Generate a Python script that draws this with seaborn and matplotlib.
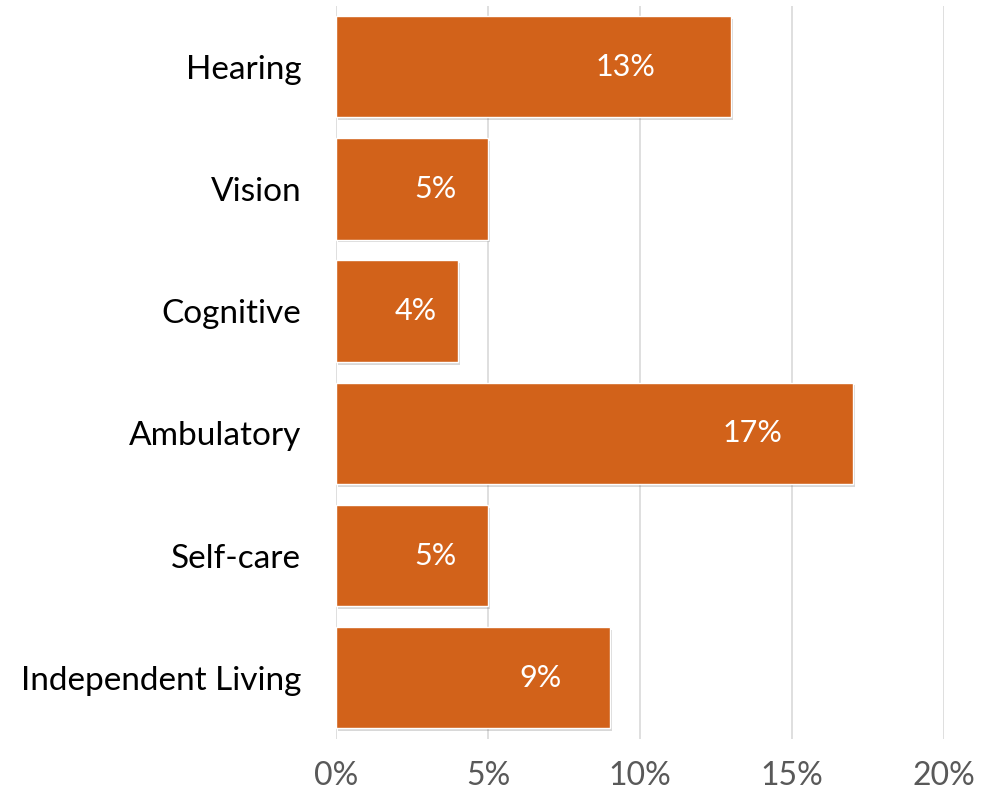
import matplotlib
matplotlib.use("Agg")
import matplotlib.pyplot as plt
import matplotlib.patheffects as pe
import seaborn as sns
import pandas as pd

# Chart data
categories = ["Hearing", "Vision", "Cognitive", "Ambulatory", "Self-care", "Independent Living"]
values = [0.13, 0.05, 0.04, 0.17, 0.05, 0.09]
labels = ["13%", "5%", "4%", "17%", "5%", "9%"]
xticks = [0, 0.05, 0.10, 0.15, 0.20]
xtick_labels = ["0%", "5%", "10%", "15%", "20%"]

sns.set_theme(style="white")
plt.rcParams["font.family"] = ["Lato", "DejaVu Sans"]

df = pd.DataFrame({"category": categories, "value": values})

fig = plt.figure(figsize=(9.81, 8.07), dpi=100)
ax = fig.add_axes([0.3425, 0.0845, 0.6198, 0.9085])

sns.barplot(data=df, x="value", y="category", orient="h", color="#D2621A",
            saturation=1, width=0.83, ax=ax, zorder=3)

for bar in ax.patches:
    bar.set_path_effects([pe.SimplePatchShadow(offset=(1.5, -2), alpha=0.2, shadow_rgbFace="#404040"),
                          pe.Normal()])

# label offsets from bar end (points)
label_offsets = [-76, -38, -30, -72, -38, -50]
for i, (v, lab) in enumerate(zip(values, labels)):
    ax.annotate(lab, xy=(v, i), xytext=(label_offsets[i], 0), textcoords="offset points",
                ha="center", va="center", color="white", fontsize=22, zorder=5)

ax.set_xlim(0, 0.20)
ax.set_xticks(xticks)
ax.set_xticklabels(xtick_labels, color="#595959", fontsize=23)
ax.tick_params(axis="x", length=0, pad=16)
ax.tick_params(axis="y", length=0, pad=25, labelsize=24, labelcolor="black")
ax.grid(axis="x", color="#D9D9D9", linewidth=1.2, zorder=0)
ax.set_xlabel("")
ax.set_ylabel("")
sns.despine(ax=ax, left=True, bottom=True)

fig.savefig("out.png", dpi=100)
